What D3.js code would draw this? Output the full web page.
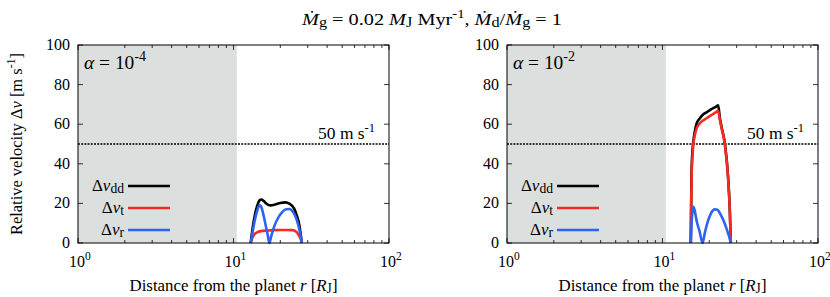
<!DOCTYPE html>
<html><head><meta charset="utf-8">
<script src="https://cdn.jsdelivr.net/npm/d3@7"></script>
<style>body{margin:0;background:#fff}svg{display:block}</style>
</head><body><div id="c"></div>
<script>
// ---- data (r in Jupiter radii, velocities in m/s) ----
const xTickValues = [1, 10, 100];
const xTickExps = ["0", "1", "2"];
const yTickValues = [0, 20, 40, 60, 80, 100];
const seriesNames = ["dd", "t", "r"];
const seriesColors = ["#000000", "#f52a20", "#2d63f0"];
const alphaLabels = ["-4", "-2"];
const grayEdge = 10.5;
const thresholdValue = 50;

// alpha = 1e-4
const a4_dd = [[12.9,0],[13.3,8],[13.8,15],[14.3,19.5],[14.7,21.5],[15.1,22],[15.6,21.3],[16.3,19.8],[17.2,19.0],[18.5,19.4],[20,20.2],[21.5,20.5],[23,19.8],[24.5,17.5],[25.5,14],[26.5,9],[27.1,4],[27.5,0]];
const a4_t  = [[12.9,0],[13.2,2.5],[13.6,4.3],[14.2,5.4],[15.0,6.0],[16.5,6.3],[18,6.5],[20,6.6],[22,6.6],[24,6.5],[25.5,5.5],[26.5,3.5],[27.2,1.5],[27.5,0]];
const a4_r  = [[12.9,0],[13.3,6],[13.8,12.5],[14.3,17],[14.7,19],[15.0,18.6],[15.5,15],[16.1,9],[16.6,4],[17.0,0],[17.5,3.5],[18.3,8.5],[19.3,12.5],[20.5,15.5],[21.8,17],[22.8,17.2],[23.8,16.3],[25,13.5],[26,9.5],[26.8,5],[27.5,0]];
// alpha = 1e-2
const a2_dd = [[15.2,0],[15.3,22],[15.4,38],[15.6,47],[15.8,51.5],[16.2,57],[16.6,60.5],[17.4,63],[18.3,65],[19.2,66],[20.5,67.5],[22,68.8],[22.8,69.5],[23.4,63],[24,58.5],[25.2,50],[26.4,33.5],[27.1,16.5],[27.5,0]];
const a2_t  = [[15.2,0],[15.3,20],[15.4,35],[15.6,44],[15.8,50],[16.2,55],[16.6,58],[17.4,60.5],[18.3,62],[19.2,63],[20.5,64.5],[22,66],[22.8,66.8],[23.4,62],[24,58],[25.2,49.5],[26.4,33],[27.1,16],[27.5,0]];
const a2_r  = [[15.2,0],[15.35,9],[15.5,14],[15.8,18.3],[16.1,16.5],[16.6,11],[17.3,6],[18.1,0],[18.7,5],[19.5,10.5],[20.5,15],[21.7,17],[22.6,16.8],[23.6,14.5],[24.8,11],[26,6.5],[27,2.5],[27.5,0]];

const panelsData = [[a4_dd, a4_t, a4_r], [a2_dd, a2_t, a2_r]];

// ---- font pick ----
function pickFont(cands) {
  const c = document.createElement("canvas").getContext("2d");
  const s = "Relative velocity 0123456789 mmmwwwiii";
  const base = {};
  ["monospace", "sans-serif"].forEach(b => { c.font = "40px " + b; base[b] = c.measureText(s).width; });
  for (const f of cands) {
    let ok = true;
    ["monospace", "sans-serif"].forEach(b => { c.font = `40px "${f}", ${b}`; if (Math.abs(c.measureText(s).width - base[b]) < 0.5) ok = false; });
    if (ok) return `"${f}", serif`;
  }
  return "serif";
}
const FONT = pickFont(["Liberation Serif", "Times New Roman", "Tinos", "DejaVu Serif", "Noto Serif"]);

// ---- drawing ----
const W = 830, H = 297;
const svg = d3.select("#c").append("svg").attr("width", W).attr("height", H)
  .attr("font-family", FONT);

function rich(g, segs, x, y, anchor, fs, len) {
  const t = g.append("text").attr("x", x).attr("y", y).attr("text-anchor", anchor)
    .attr("font-size", fs).attr("font-family", FONT).attr("fill", "#000");
  if (len) t.attr("textLength", len).attr("lengthAdjust", "spacingAndGlyphs");
  let off = 0;
  segs.forEach(s => {
    let target = 0, size = fs;
    if (s.sup) { target = -fs * 0.42; size = fs * 0.72; }
    if (s.sub) { target = fs * 0.1; size = fs * 0.8; }
    const ts = t.append("tspan").text(s.t).attr("font-size", size);
    if (s.i) ts.attr("font-style", "italic");
    if (target - off !== 0) ts.attr("dy", target - off);
    off = target;
  });
  return t;
}

const panels = [{x0: 78, x1: 389}, {x0: 507, x1: 818}];
const yTop = 45, yBot = 243;

panels.forEach((p, pi) => {
  const x = d3.scaleLog().domain([1, 100]).range([p.x0, p.x1]);
  const y = d3.scaleLinear().domain([0, 100]).range([yBot, yTop]);
  const g = svg.append("g");

  g.append("rect").attr("x", x(1)).attr("y", y(100)).attr("width", x(grayEdge) - x(1)).attr("height", y(0) - y(100)).attr("fill", "#dbdfde");

  const minors = [];
  for (let d = 1; d < 100; d *= 10) for (let k = 2; k <= 9; k++) minors.push(d * k);
  minors.forEach(v => {
    g.append("line").attr("x1", x(v)).attr("x2", x(v)).attr("y1", yBot).attr("y2", yBot - 3).attr("stroke", "#000").attr("stroke-width", 0.8);
    g.append("line").attr("x1", x(v)).attr("x2", x(v)).attr("y1", yTop).attr("y2", yTop + 3).attr("stroke", "#000").attr("stroke-width", 0.8);
  });
  xTickValues.forEach((v, i) => {
    g.append("line").attr("x1", x(v)).attr("x2", x(v)).attr("y1", yBot).attr("y2", yBot - 5).attr("stroke", "#000").attr("stroke-width", 0.8);
    g.append("line").attr("x1", x(v)).attr("x2", x(v)).attr("y1", yTop).attr("y2", yTop + 5).attr("stroke", "#000").attr("stroke-width", 0.8);
    rich(g, [{t: "10"}, {t: xTickExps[i], sup: true}], x(v) + 2, 267, "middle", 16);
  });
  yTickValues.forEach(v => {
    g.append("line").attr("x1", p.x0).attr("x2", p.x0 + 5).attr("y1", y(v)).attr("y2", y(v)).attr("stroke", "#000").attr("stroke-width", 0.8);
    g.append("line").attr("x1", p.x1).attr("x2", p.x1 - 5).attr("y1", y(v)).attr("y2", y(v)).attr("stroke", "#000").attr("stroke-width", 0.8);
    rich(g, [{t: String(v)}], p.x0 - 8, y(v) + 5, "end", 16);
  });

  g.append("line").attr("x1", x(1)).attr("x2", x(100)).attr("y1", y(thresholdValue)).attr("y2", y(thresholdValue))
    .attr("stroke", "#000").attr("stroke-width", 1.6).attr("stroke-dasharray", "2,1.2");
  rich(g, [{t: "50 m s"}, {t: "-1", sup: true}], x(35), y(thresholdValue) - 5, "start", 17, 57);

  const line = d3.line().x(d => x(d[0])).y(d => y(d[1])).curve(d3.curveMonotoneX);
  [0, 1, 2].forEach(si => {
    g.append("path").datum(panelsData[pi][si]).attr("d", line).attr("fill", "none")
      .attr("stroke", seriesColors[si]).attr("stroke-width", 2.6).attr("stroke-linejoin", "round");
  });

  g.append("rect").attr("x", p.x0).attr("y", yTop).attr("width", p.x1 - p.x0).attr("height", yBot - yTop)
    .attr("fill", "none").attr("stroke", "#000").attr("stroke-width", 1);

  rich(g, [{t: "α", i: true}, {t: " = 10"}, {t: alphaLabels[pi], sup: true}], p.x0 + 6, 69, "start", 19, 62);

  seriesNames.forEach((n, si) => {
    const ly = 186 + si * 22;
    rich(g, [{t: "Δ"}, {t: "v", i: true}, {t: n, sub: true}], p.x0 + 46, ly + 5, "end", 17);
    g.append("line").attr("x1", p.x0 + 50).attr("x2", p.x0 + 92).attr("y1", ly).attr("y2", ly)
      .attr("stroke", seriesColors[si]).attr("stroke-width", 2.6);
  });

  rich(g, [{t: "Distance from the planet "}, {t: "r", i: true}, {t: " ["}, {t: "R", i: true}, {t: "J", sub: true}, {t: "]"}], (p.x0 + p.x1) / 2, 291, "middle", 17, 208);
});

const yt = svg.append("g").attr("transform", "translate(22,144) rotate(-90)");
rich(yt, [{t: "Relative velocity Δ"}, {t: "v", i: true}, {t: " [m s"}, {t: "-1", sup: true}, {t: "]"}], 0, 0, "middle", 17, 182);

rich(svg, [{t: "Ṁ", i: true}, {t: "g", sub: true}, {t: " = 0.02 "}, {t: "M", i: true}, {t: "J", sub: true}, {t: " Myr"}, {t: "-1", sup: true}, {t: ",  "},
  {t: "Ṁ", i: true}, {t: "d", sub: true}, {t: "/"}, {t: "Ṁ", i: true}, {t: "g", sub: true}, {t: " = 1"}], 432, 25, "middle", 17, 260);
</script></body></html>
